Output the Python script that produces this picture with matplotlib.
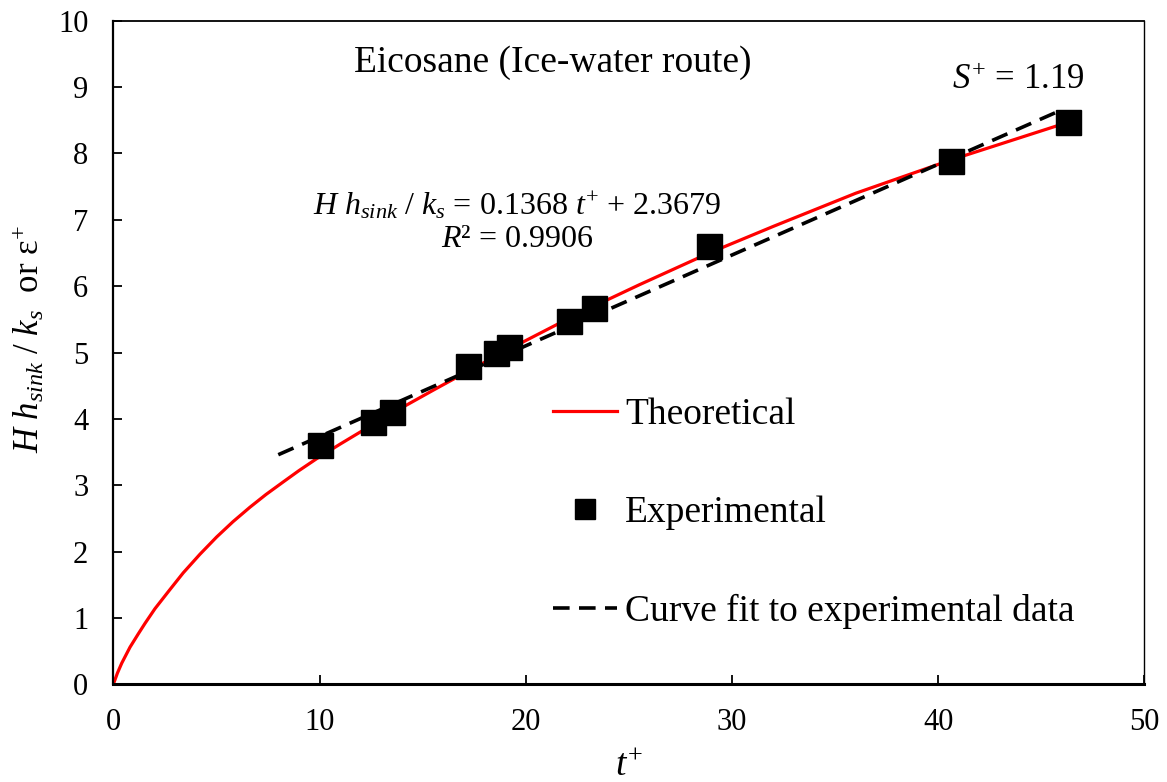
import numpy as np
import matplotlib.pyplot as plt

plt.rcParams['font.family'] = ['Liberation Serif', 'DejaVu Serif']
plt.rcParams['mathtext.fontset'] = 'custom'
plt.rcParams['mathtext.rm'] = 'Liberation Serif'
plt.rcParams['mathtext.it'] = 'Liberation Serif:italic'

# theoretical curve
theo_t = [0, 0.2, 0.41, 0.81, 1.21, 1.54, 2.02, 2.7, 3.39, 4.2, 5.01, 5.8,
          6.63, 7.4, 8.24, 9.0, 9.86, 11, 12.5, 14, 15.5, 17.5, 20, 22.5,
          25.5, 28.9, 32, 36, 40.6, 46.3]
theo_y = [0, 0.17, 0.32, 0.56, 0.76, 0.92, 1.14, 1.41, 1.68, 1.96, 2.22, 2.45,
          2.67, 2.86, 3.05, 3.22, 3.40, 3.62, 3.9, 4.17, 4.43, 4.77, 5.18, 5.58,
          6.02, 6.5, 6.9, 7.4, 7.9, 8.47]

# experimental points
exp_t = [10.0, 12.6, 13.5, 17.2, 18.55, 19.2, 22.1, 23.3, 28.9, 40.6, 46.3]
exp_y = [3.6, 3.96, 4.1, 4.8, 5.0, 5.08, 5.47, 5.67, 6.61, 7.88, 8.47]

# linear fit end points
fit_t = [8.0, 45.8]
fit_y = [3.46, 8.63]

fig = plt.figure(figsize=(11.67, 7.82), dpi=100)
ax = fig.add_axes([0.0971, 0.1249, 0.8835, 0.8486])

ax.plot(theo_t, theo_y, color='red', lw=2.3, label='Theoretical', zorder=2)
ax.plot(exp_t, exp_y, ls='none', marker='s', ms=18, color='black',
        label='Experimental', zorder=3)
ax.plot(fit_t, fit_y, color='black', lw=2.6, dashes=(4.6, 2.6),
        label='Curve fit to experimental data', zorder=4)

ax.set_xlim(0, 50)
ax.set_ylim(0, 10)
ax.set_xticks(np.arange(0, 51, 10))
ax.set_yticks(np.arange(0, 11, 1))
ax.tick_params(direction='in', length=6.5, width=1.3, labelsize=22, pad=17)
ax.tick_params(axis='y', pad=18)
ax.spines['left'].set_linewidth(1.6)
ax.spines['top'].set_linewidth(1.3)
ax.spines['bottom'].set_linewidth(2.2)
ax.spines['right'].set_linewidth(1.0)

ax.set_xlabel('$t^{+}$', fontsize=27, labelpad=8)
ax.set_ylabel('$H\\ h_{sink}\\ /\\ k_s$  or ε$^{+}$', fontsize=25, labelpad=6)
ax.yaxis.set_label_coords(-0.064, 0.52)

ax.text(21.3, 9.37, 'Eicosane (Ice-water route)', fontsize=27,
        ha='center', va='center')
ax.text(43.9, 9.1, '$S^{+}$ = 1.19', fontsize=25, ha='center', va='center')
ax.text(19.6, 7.22, '$H\\ h_{sink}\\ /\\ k_s$ = 0.1368 $t^{+}$ + 2.3679',
        fontsize=23, ha='center', va='center')
ax.text(19.6, 6.7, '$R$² = 0.9906', fontsize=23, ha='center', va='center')

ax.legend(loc='center left', bbox_to_anchor=(0.4265, 0.258), frameon=False,
          fontsize=27, borderpad=0, borderaxespad=0, handlelength=1.7,
          handletextpad=0.22, labelspacing=1.7, markerscale=0.8)

fig.savefig('out.png', dpi=100)
